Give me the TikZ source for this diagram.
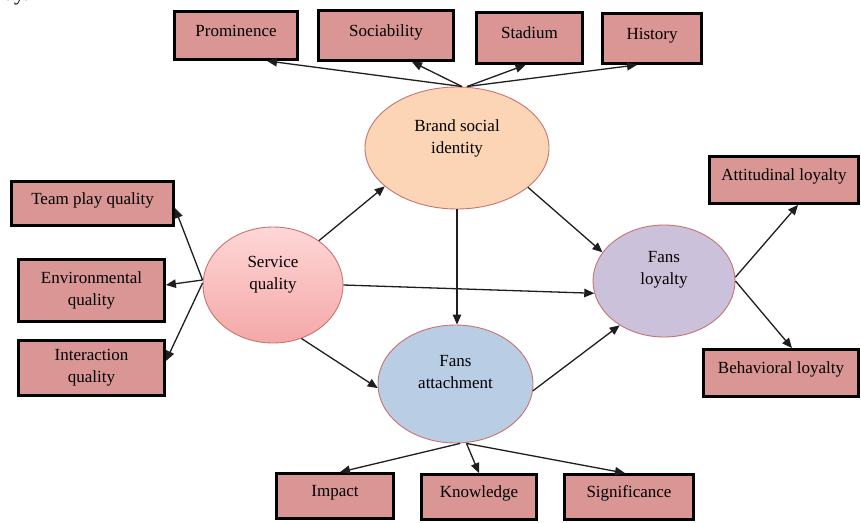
\documentclass[tikz,border=0pt]{standalone}
\usepackage{fontspec}
\setmainfont{Liberation Serif}
\usetikzlibrary{shapes.geometric,arrows.meta,calc}
\definecolor{boxfill}{HTML}{D99694}
\definecolor{peach}{HTML}{FBD5B5}
\definecolor{lavender}{HTML}{CCC1DA}
\definecolor{lightblue}{HTML}{B9CDE5}
\definecolor{svctop}{HTML}{FFD6D6}
\definecolor{svcbot}{HTML}{F4A8A8}
\definecolor{ellborder}{HTML}{C8746F}
\definecolor{arrowcol}{HTML}{1E1E1E}
\begin{document}
\begin{tikzpicture}[x=1pt,y=-1pt,
  basefont/.style={font=\fontsize{17}{22}\selectfont},
  fbox/.style={draw=black, line width=2.8pt, fill=boxfill, inner sep=0pt, basefont},
  tbox/.style={fbox, text height=12pt, text depth=11pt},
  mbox/.style={fbox, align=center},
  ell/.style={ellipse, draw=ellborder, line width=0.9pt, inner sep=0pt},
  lbl/.style={basefont, align=center, yshift=10pt},
  arr/.style={draw=arrowcol, line width=1.3pt, -{Triangle[length=10pt,width=8.5pt]}}
]
\useasboundingbox (0,0) rectangle (861,522);
\fill[white] (0,0) rectangle (861,522);

% fragment of text above the figure
\node[anchor=base west, inner sep=0pt, font=\fontsize{21}{21}\selectfont] (frag) at (-7,1) {udy.};

% top boxes
\node[tbox, minimum width=123pt, minimum height=48pt] (prom) at (236,35.5) {Prominence};
\node[tbox, minimum width=135pt, minimum height=50pt] (soc) at (386,35.5) {Sociability};
\node[tbox, minimum width=106pt, minimum height=51pt] (stad) at (529.5,38) {Stadium};
\node[tbox, minimum width=99pt, minimum height=50pt] (hist) at (652,38.5) {History};

% left boxes
\node[tbox, minimum width=162pt, minimum height=44pt] (team) at (92.5,203.5) {Team play quality};
\node[mbox, minimum width=146pt, minimum height=62pt] (env) at (91.5,290.5) {Environmental\\quality};
\node[mbox, minimum width=146pt, minimum height=55pt] (inter) at (91.5,368) {Interaction\\quality};

% right boxes
\node[tbox, minimum width=149pt, minimum height=47pt] (att) at (784,180) {Attitudinal loyalty};
\node[tbox, minimum width=155pt, minimum height=47pt] (beh) at (781,373) {Behavioral loyalty};

% bottom boxes
\node[tbox, minimum width=117pt, minimum height=45pt] (imp) at (335,496) {Impact};
\node[tbox, minimum width=115pt, minimum height=45pt] (know) at (479,497) {Knowledge};
\node[tbox, minimum width=129pt, minimum height=45pt] (sig) at (629,497) {Significance};

% ellipses
\node[ell, fill=peach, minimum width=184pt, minimum height=122pt,
      label={[lbl]center:{Brand social\\identity}}] (bsi) at (457,148) {};
\node[ell, top color=svctop, bottom color=svcbot, minimum width=140pt, minimum height=116pt,
      label={[lbl]center:{Service\\quality}}] (svc) at (273,285) {};
\node[ell, fill=lavender, minimum width=142pt, minimum height=112pt,
      label={[lbl, yshift=1pt]center:{Fans\\loyalty}}] (fl) at (664,281) {};
\node[ell, fill=lightblue, minimum width=155pt, minimum height=118pt,
      label={[lbl, yshift=1.5pt]center:{Fans\\attachment}}] (fa) at (455.5,384) {};

% brand social identity -> indicators
\draw[arr] ([xshift=5pt]bsi.north) -- ([xshift=31pt]prom.south);
\draw[arr] ([xshift=5pt]bsi.north) -- ([xshift=26pt]soc.south);
\draw[arr] ([xshift=10pt]bsi.north) -- ([xshift=-4pt]stad.south);
\draw[arr] ([xshift=10pt]bsi.north) -- ([xshift=-15pt]hist.south);

% service quality -> indicators
\draw[arr] ([yshift=5pt]svc.west) -- ([yshift=-4.5pt]team.east);
\draw[arr] ([yshift=5pt]svc.west) -- ([yshift=5.5pt]env.east);
\draw[arr] ([yshift=2pt]svc.west) -- ([yshift=7pt]inter.east);

% structural paths
\draw[arr] (svc.44) -- (bsi.208);
\draw[arr] (svc.east) -- (fl.190);
\draw[arr] (svc.-62) -- (fa.183);
\draw[arr] (bsi.-29) -- (fl.155);
\draw[arr] (bsi.south) -- (bsi.south |- fa.north);
\draw[arr] (fa.-5) -- (fl.225);

% fans loyalty -> indicators
\draw[arr] (fl.3) -- ([xshift=14pt]att.south);
\draw[arr] (fl.east) -- ([xshift=11pt]beh.north);

% fans attachment -> indicators
\draw[arr] ([xshift=4.5pt]fa.south) -- ([xshift=5pt]imp.north);
\draw[arr] ([xshift=11pt]fa.south) -- (know.north);
\draw[arr] ([xshift=11pt]fa.south) -- ([xshift=-4pt]sig.north);
\end{tikzpicture}
\end{document}
